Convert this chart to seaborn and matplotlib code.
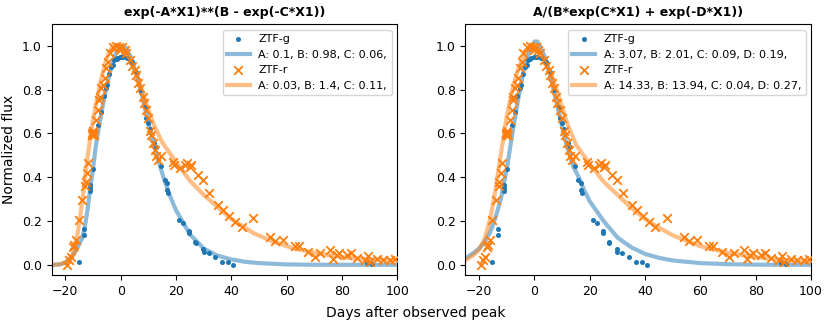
import numpy as np
import pandas as pd
import matplotlib
matplotlib.use("Agg")
import matplotlib.pyplot as plt
import seaborn as sb

# datos observados (dias desde el pico, flujo normalizado)
g_days = [-15.2, -13.2, -13.2, -11.0, -11.0, -11.0, -9.9, -8.1, -7.0, -6.2, -5.4, -5.0,
          -4.3, -3.6, -2.7, -2.3, -1.5, -1.3, -0.2, 0.5, 1.0, 2.4, 4.2, 5.7, 6.9, 8.7,
          9.3, 10.0, 10.5, 12.1, 12.9, 14.7, 15.9, 16.9, 16.9, 17.0, 21.0, 22.7, 24.8,
          24.8, 26.9, 27.1, 29.8, 30.0, 31.8, 34.1, 36.8, 38.9, 40.7, 89.0, 91.0]
g_flux = [0.014, 0.163, 0.135, 0.365, 0.350, 0.338, 0.437, 0.638, 0.700, 0.770, 0.807, 0.820,
          0.872, 0.905, 0.915, 0.936, 0.938, 0.944, 0.948, 0.951, 0.950, 0.944, 0.925, 0.880, 0.800, 0.720,
          0.670, 0.650, 0.620, 0.555, 0.540, 0.453, 0.388, 0.373, 0.342, 0.327, 0.205, 0.190, 0.155,
          0.145, 0.104, 0.099, 0.072, 0.061, 0.053, 0.035, 0.012, 0.015, 0.000, 0.008, 0.006]

r_days = [-19.3, -18.5, -17.9, -17.3, -16.7, -16.1, -15.2, -13.9, -13.0, -12.7, -12.2, -11.8,
          -10.3, -10.2, -10.0, -9.9, -9.7, -8.8, -8.2, -7.9, -7.6, -7.0, -6.4, -5.8, -5.2, -4.6,
          -4.0, -2.8, -1.6, -0.6, -0.1, 0.6, 1.4, 2.1, 3.3, 4.2, 5.1, 5.7, 6.3, 6.9, 7.9, 8.3,
          9.1, 9.9, 10.5, 11.1, 11.7, 12.3, 12.9, 13.5, 14.7, 19.0, 19.2, 21.4, 23.2, 24.0,
          25.0, 25.6, 28.0, 29.8, 32.0, 35.3, 37.1, 39.3, 41.3, 43.7, 47.9, 54.0, 55.8, 58.8,
          63.0, 64.6, 67.9, 70.3, 72.1, 75.7, 76.7, 78.1, 79.1, 81.8, 83.2, 85.4, 88.4, 89.6,
          90.2, 92.6, 95.0, 97.5, 99.3]
r_flux = [0.000, 0.023, 0.038, 0.080, 0.090, 0.114, 0.205, 0.297, 0.358, 0.380, 0.419, 0.467,
          0.600, 0.595, 0.610, 0.600, 0.594, 0.662, 0.708, 0.753, 0.768, 0.807, 0.822, 0.852, 0.898, 0.928,
          0.966, 0.997, 1.000, 0.997, 0.980, 0.997, 0.980, 0.966, 0.936, 0.906, 0.890, 0.868, 0.830, 0.807, 0.768, 0.738,
          0.708, 0.670, 0.610, 0.594, 0.556, 0.525, 0.495, 0.480, 0.495, 0.472, 0.457, 0.441, 0.457, 0.464,
          0.449, 0.457, 0.411, 0.388, 0.330, 0.274, 0.251, 0.221, 0.198, 0.175, 0.213, 0.129, 0.107, 0.114,
          0.084, 0.084, 0.061, 0.038, 0.053, 0.068, 0.026, 0.046, 0.053, 0.046, 0.056, 0.030, 0.023, 0.041,
          0.015, 0.026, 0.020, 0.023, 0.026]

# curvas ajustadas leidas del grafico
# modelo 1: exp(-A*X1)**(B - exp(-C*X1))
m1_g_days = [-25, -22, -20, -18, -16, -14, -13, -12, -11, -10, -9, -8, -6, -4, -2, 0, 2, 4, 6, 8,
             10, 12, 14, 16, 18, 20, 25, 30, 35, 40, 45, 50, 60, 70, 100]
m1_g_flux = [0.0, 0.002, 0.01, 0.03, 0.07, 0.12, 0.17, 0.25, 0.35, 0.44, 0.54, 0.62, 0.76, 0.875, 0.96, 1.0,
             0.99, 0.94, 0.86, 0.76, 0.65, 0.55, 0.46, 0.38, 0.31, 0.25, 0.14, 0.075, 0.042, 0.025,
             0.014, 0.008, 0.002, 0.0005, 0.0]
m1_r_days = [-25, -22, -20, -18, -17, -16, -15, -14, -13, -12, -11, -10, -9, -8, -7, -6, -5, -4, -3,
             -2, -1, 0, 2, 4, 6, 8, 10, 12, 15, 20, 25, 30, 35, 40, 48, 55, 62, 70, 77, 84, 100]
m1_r_flux = [0.0, 0.002, 0.01, 0.035, 0.06, 0.11, 0.19, 0.28, 0.38, 0.49, 0.58, 0.66, 0.73, 0.79, 0.85,
             0.90, 0.945, 0.975, 0.995, 1.0, 1.0, 0.99, 0.96, 0.92, 0.86, 0.79, 0.71, 0.64, 0.56, 0.47,
             0.385, 0.32, 0.265, 0.21, 0.145, 0.107, 0.077, 0.056, 0.041, 0.03, 0.02]

# modelo 2: A/(B*exp(C*X1) + exp(-D*X1))
m2_g_days = [-25, -22, -20, -18, -16, -14, -12, -10, -8, -6, -4, -2, 0, 1, 2, 4, 6, 8, 10, 12, 14,
             16, 18, 20, 25, 30, 35, 40, 45, 50, 60, 70, 80, 100]
m2_g_flux = [0.03, 0.055, 0.075, 0.105, 0.15, 0.22, 0.31, 0.44, 0.60, 0.75, 0.88, 0.97, 1.02, 1.02,
             1.0, 0.94, 0.85, 0.74, 0.63, 0.53, 0.45, 0.40, 0.34, 0.29, 0.20, 0.125, 0.08, 0.05,
             0.032, 0.02, 0.008, 0.003, 0.001, 0.0]
m2_r_days = [-25, -22, -20, -18, -16, -14, -12, -10, -8, -6, -4, -2, 0, 2, 4, 6, 8, 10, 12, 15, 20,
             25, 30, 35, 40, 45, 50, 60, 70, 80, 90, 100]
m2_r_flux = [0.02, 0.045, 0.07, 0.12, 0.21, 0.35, 0.52, 0.68, 0.80, 0.89, 0.95, 0.985, 0.99, 0.97,
             0.93, 0.87, 0.80, 0.72, 0.64, 0.55, 0.46, 0.38, 0.32, 0.26, 0.21, 0.17, 0.135, 0.085,
             0.055, 0.035, 0.022, 0.015]

titulos = ["exp(-A*X1)**(B - exp(-C*X1))", "A/(B*exp(C*X1) + exp(-D*X1))"]
etiquetas_g = ["A: 0.1, B: 0.98, C: 0.06,", "A: 3.07, B: 2.01, C: 0.09, D: 0.19,"]
etiquetas_r = ["A: 0.03, B: 1.4, C: 0.11,", "A: 14.33, B: 13.94, C: 0.04, D: 0.27,"]
curvas = [(m1_g_days, m1_g_flux, m1_r_days, m1_r_flux),
          (m2_g_days, m2_g_flux, m2_r_days, m2_r_flux)]

df_g = pd.DataFrame({"dias": g_days, "flujo": g_flux})
df_r = pd.DataFrame({"dias": r_days, "flujo": r_flux})

plt.rcParams["font.family"] = "DejaVu Sans"
fig, axes = plt.subplots(1, 2, figsize=(8.31, 3.29), dpi=100)
axes[0].set_position([0.062, 0.163, 0.416, 0.764])
axes[1].set_position([0.560, 0.163, 0.416, 0.764])

azul = "#1f77b4"
naranja = "#ff7f0e"

for i, ax in enumerate(axes):
    gd, gf, rd, rf = curvas[i]
    sb.scatterplot(x="dias", y="flujo", data=df_g, ax=ax, color=azul, marker="o", s=13,
                   linewidth=0, label="ZTF-g", zorder=3)
    sb.lineplot(x=gd, y=gf, ax=ax, color=azul, lw=3, alpha=0.5, label=etiquetas_g[i], zorder=2)
    sb.scatterplot(x="dias", y="flujo", data=df_r, ax=ax, color=naranja, marker="x", s=38,
                   linewidth=1.3, label="ZTF-r", zorder=3)
    sb.lineplot(x=rd, y=rf, ax=ax, color=naranja, lw=3, alpha=0.5, label=etiquetas_r[i], zorder=2)
    ax.set_xlim(-25, 100)
    ax.set_ylim(-0.048, 1.1)
    ax.set_xticks([-20, 0, 20, 40, 60, 80, 100])
    ax.set_yticks([0.0, 0.2, 0.4, 0.6, 0.8, 1.0])
    ax.tick_params(labelsize=9)
    ax.set_xlabel("")
    ax.set_ylabel("")
    ax.set_title(titulos[i], fontsize=9, fontweight="bold")
    ax.legend(loc="upper right", fontsize=8)

axes[0].set_ylabel("Normalized flux", fontsize=10)
fig.text(0.5, 0.035, "Days after observed peak", ha="center", fontsize=10)

plt.savefig("out.png", dpi=100)
